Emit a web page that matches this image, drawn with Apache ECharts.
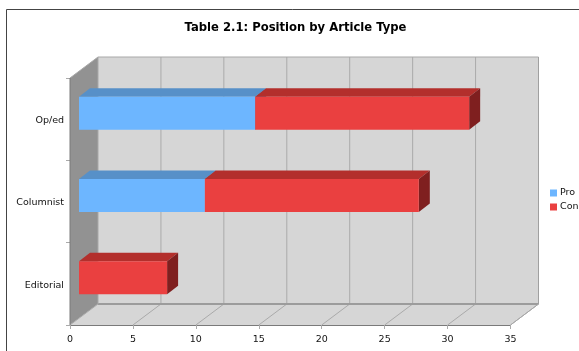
<!DOCTYPE html>
<html>
<head>
<meta charset="utf-8">
<style>html,body{margin:0;padding:0;background:#fff}#c{width:579px;height:351px}</style>
<script src="https://cdn.jsdelivr.net/npm/echarts@6/dist/echarts.min.js"></script>
</head>
<body>
<div id="c"></div>
<script>
// Article types, bottom to top on the category axis
const categories = ['Editorial', 'Columnist', 'Op/ed'];
const proValues = [0, 10, 14];
const conValues = [7, 17, 17];
const valueTicks = { min: 0, max: 35, interval: 5 };

const FONT = '"DejaVu Sans", sans-serif';
// Depth of the box and of the bars, in pixels
const BOX = { dx: 28, dy: -21 };
const BAR = { dx: 11, dy: -8.5, shiftX: 9, shiftY: -6, height: 33 };
const PRO = { front: '#6db6ff', top: '#5790c8', side: '#44709e' };
const CON = { front: '#ea4040', top: '#b32f2c', side: '#7f1f1f' };

function poly(points, fill, stroke, lineWidth) {
  return {
    type: 'polygon',
    shape: { points: points },
    style: { fill: fill, stroke: stroke || null, lineWidth: lineWidth || 0 }
  };
}
function line(a, b, stroke, w) {
  return {
    type: 'line',
    shape: { x1: a[0], y1: a[1], x2: b[0], y2: b[1] },
    style: { stroke: stroke, lineWidth: w || 1 }
  };
}

// The three-sided box behind the bars: left wall, floor, back wall and its grid lines
function renderBox(params, api) {
  if (params.dataIndex !== 0) return { type: 'group', children: [] };
  const s = params.coordSys;
  const left = s.x, right = s.x + s.width, top = s.y, bottom = s.y + s.height;
  const d = BOX;
  const children = [
    poly([[left + d.dx, top + d.dy], [right + d.dx, top + d.dy], [right + d.dx, bottom + d.dy], [left + d.dx, bottom + d.dy]], '#d6d6d6'),
    poly([[left, top], [left + d.dx, top + d.dy], [left + d.dx, bottom + d.dy], [left, bottom]], '#929292'),
    poly([[left, bottom], [right, bottom], [right + d.dx, bottom + d.dy], [left + d.dx, bottom + d.dy]], '#d6d6d6')
  ];
  for (let v = valueTicks.min; v <= valueTicks.max; v += valueTicks.interval) {
    const x = api.coord([v, categories[0]])[0];
    if (v > valueTicks.min) {
      children.push(line([x + d.dx, top + d.dy], [x + d.dx, bottom + d.dy], '#aaaaaa'));
      children.push(line([x, bottom], [x + d.dx, bottom + d.dy], '#aaaaaa'));
    }
  }
  children.push(line([left + d.dx, bottom + d.dy], [right + d.dx, bottom + d.dy], '#9c9c9c', 2));
  children.push(line([left + d.dx, top + d.dy], [right + d.dx, top + d.dy], '#a8a8a8', 1));
  children.push(line([left + d.dx, top + d.dy], [left + d.dx, bottom + d.dy], '#a8a8a8', 1));
  children.push(line([right + d.dx, top + d.dy], [right + d.dx, bottom + d.dy], '#a0a0a0', 1));
  children.push(line([left, top], [left + d.dx, top + d.dy], '#a8a8a8', 1));
  children.push(line([left, bottom], [left + d.dx, bottom + d.dy], '#a8a8a8', 1));
  children.push(line([left, top], [left, bottom], '#7a7a7a', 1));
  children.push(line([right, bottom], [right + d.dx, bottom + d.dy], '#a8a8a8', 1));
  return { type: 'group', children: children };
}

// One stacked segment drawn as a box: api.value(0) start, api.value(1) end, api.value(2) category
function barRenderer(col) {
  return function (params, api) {
    const from = api.value(0), to = api.value(1);
    if (to <= from) return { type: 'group', children: [] };
    const cat = api.value(2);
    const a = api.coord([from, cat]);
    const b = api.coord([to, cat]);
    const x0 = a[0] + BAR.shiftX, x1 = b[0] + BAR.shiftX;
    const cy = a[1] + BAR.shiftY;
    const y0 = cy - BAR.height / 2, y1 = cy + BAR.height / 2;
    return {
      type: 'group',
      children: [
        poly([[x0, y0], [x1, y0], [x1 + BAR.dx, y0 + BAR.dy], [x0 + BAR.dx, y0 + BAR.dy]], col.top),
        poly([[x1, y0], [x1 + BAR.dx, y0 + BAR.dy], [x1 + BAR.dx, y1 + BAR.dy], [x1, y1]], col.side),
        poly([[x0, y0], [x1, y0], [x1, y1], [x0, y1]], col.front)
      ]
    };
  };
}

const proSegments = categories.map((c, i) => [0, proValues[i], i]);
const conSegments = categories.map((c, i) => [proValues[i], proValues[i] + conValues[i], i]);

const chart = echarts.init(document.getElementById('c'), null, { renderer: 'canvas' });
chart.setOption({
  animation: false,
  backgroundColor: '#fff',
  title: {
    text: 'Table 2.1: Position by Article Type',
    left: 290.5,
    textAlign: 'center',
    top: 17,
    textStyle: { fontFamily: FONT, fontSize: 11.6, fontWeight: 'bold', color: '#000' }
  },
  legend: {
    orient: 'vertical',
    left: 545,
    top: 183,
    itemWidth: 7,
    itemHeight: 7,
    itemGap: 4,
    icon: 'rect',
    data: ['Pro', 'Con'],
    selectedMode: false,
    textStyle: { fontFamily: FONT, fontSize: 9.5, color: '#111', padding: [0, 0, 0, -2] }
  },
  graphic: [
    { type: 'polyline', shape: { points: [[6.5, 351], [6.5, 9.5], [579, 9.5]] }, style: { stroke: '#444444', lineWidth: 1, fill: null }, silent: true }
  ],
  grid: { left: 70, top: 78, width: 440.5, height: 247, containLabel: false },
  xAxis: {
    type: 'value',
    min: valueTicks.min, max: valueTicks.max, interval: valueTicks.interval,
    splitLine: { show: false },
    axisLine: { show: true, onZero: false, lineStyle: { color: '#7a7a7a', width: 1 } },
    axisTick: { show: true, length: 4, inside: false, lineStyle: { color: '#aaaaaa' } },
    axisLabel: { fontFamily: FONT, fontSize: 9.5, color: '#111', margin: 10 }
  },
  yAxis: {
    type: 'category',
    data: categories,
    axisLine: { show: false },
    axisTick: { show: true, length: 4, alignWithLabel: false, lineStyle: { color: '#aaaaaa' } },
    splitLine: { show: false },
    axisLabel: { fontFamily: FONT, fontSize: 9.5, color: '#111', margin: 6, verticalAlign: 'top', lineHeight: 3 }
  },
  series: [
    { type: 'custom', name: 'box', silent: true, z: 1, renderItem: renderBox, data: [[0]], encode: { x: 0 }, clip: false },
    { type: 'custom', name: 'Pro', z: 2, renderItem: barRenderer(PRO), data: proSegments, itemStyle: { color: PRO.front }, encode: { x: [0, 1], y: 2 }, clip: false },
    { type: 'custom', name: 'Con', z: 3, renderItem: barRenderer(CON), data: conSegments, itemStyle: { color: CON.front }, encode: { x: [0, 1], y: 2 }, clip: false }
  ]
});
</script>
</body>
</html>
